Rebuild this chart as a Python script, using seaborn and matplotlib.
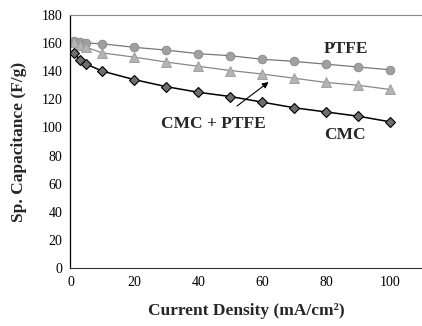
import matplotlib
matplotlib.use("Agg")
import matplotlib.pyplot as plt
import seaborn as sns
import pandas as pd

current_density = [1, 3, 5, 10, 20, 30, 40, 50, 60, 70, 80, 90, 100]
cap_cmc = [153, 148, 145, 140, 134, 129, 125, 122, 118, 114, 111, 108, 104]
cap_ptfe = [161.5, 161, 160, 159.5, 157, 155, 152.5, 151, 148.5, 147, 145, 143, 141]
cap_cmc_ptfe = [161, 159, 157, 153, 150, 146.5, 143.5, 140.5, 138, 135, 132, 130, 127]
x_ticks = [0, 20, 40, 60, 80, 100]
y_ticks = [0, 20, 40, 60, 80, 100, 120, 140, 160, 180]

sns.set_style("white")
plt.rcParams["font.family"] = ["Liberation Serif", "DejaVu Serif"]

fig = plt.figure(figsize=(4.22, 3.26), dpi=100)
ax = fig.add_axes([0.167, 0.178, 0.833, 0.776])

df_cmc = pd.DataFrame({"x": current_density, "y": cap_cmc})
df_ptfe = pd.DataFrame({"x": current_density, "y": cap_ptfe})
df_mix = pd.DataFrame({"x": current_density, "y": cap_cmc_ptfe})

sns.lineplot(data=df_ptfe, x="x", y="y", ax=ax, color="#777777", lw=0.9,
             marker="o", markersize=6.2, markerfacecolor="#a0a0a0",
             markeredgecolor="#888888", markeredgewidth=0.6)
sns.lineplot(data=df_mix, x="x", y="y", ax=ax, color="#888888", lw=0.9,
             marker="^", markersize=6.8, markerfacecolor="#b4b4b4",
             markeredgecolor="#999999", markeredgewidth=0.6)
sns.lineplot(data=df_cmc, x="x", y="y", ax=ax, color="black", lw=1.1,
             marker="D", markersize=5.2, markerfacecolor="#6e6e6e",
             markeredgecolor="black", markeredgewidth=0.8)

ax.set_xlim(0, 110)
ax.set_ylim(0, 180)
ax.set_xticks(x_ticks)
ax.set_yticks(y_ticks)
ax.tick_params(axis="both", labelsize=10, direction="in", length=2.5,
               width=0.6, colors="black", pad=6)

for side in ["top", "bottom"]:
    ax.spines[side].set_linestyle((0, (1, 1)))
    ax.spines[side].set_linewidth(0.8)
ax.spines["top"].set_color("#888888")
ax.spines["bottom"].set_color("#333333")
ax.spines["left"].set_color("black")
ax.spines["left"].set_linewidth(0.9)
ax.spines["right"].set_visible(False)

ax.set_xlabel("Current Density (mA/cm²)", fontsize=12.5, fontweight="bold", labelpad=10)
ax.set_ylabel("Sp. Capacitance (F/g)", fontsize=12.5, fontweight="bold", labelpad=10)

ax.text(86.3, 155.6, "PTFE", fontsize=12.5, fontweight="bold", ha="center", va="center")
ax.text(86, 94.6, "CMC", fontsize=12.5, fontweight="bold", ha="center", va="center")
ax.annotate("CMC + PTFE", xy=(62, 132.3), xytext=(44.7, 102.4),
            fontsize=12.5, fontweight="bold", ha="center", va="center",
            arrowprops=dict(arrowstyle="-|>", color="black", lw=0.8,
                            shrinkA=8, shrinkB=0, mutation_scale=9))

fig.savefig("out.png", dpi=100)
